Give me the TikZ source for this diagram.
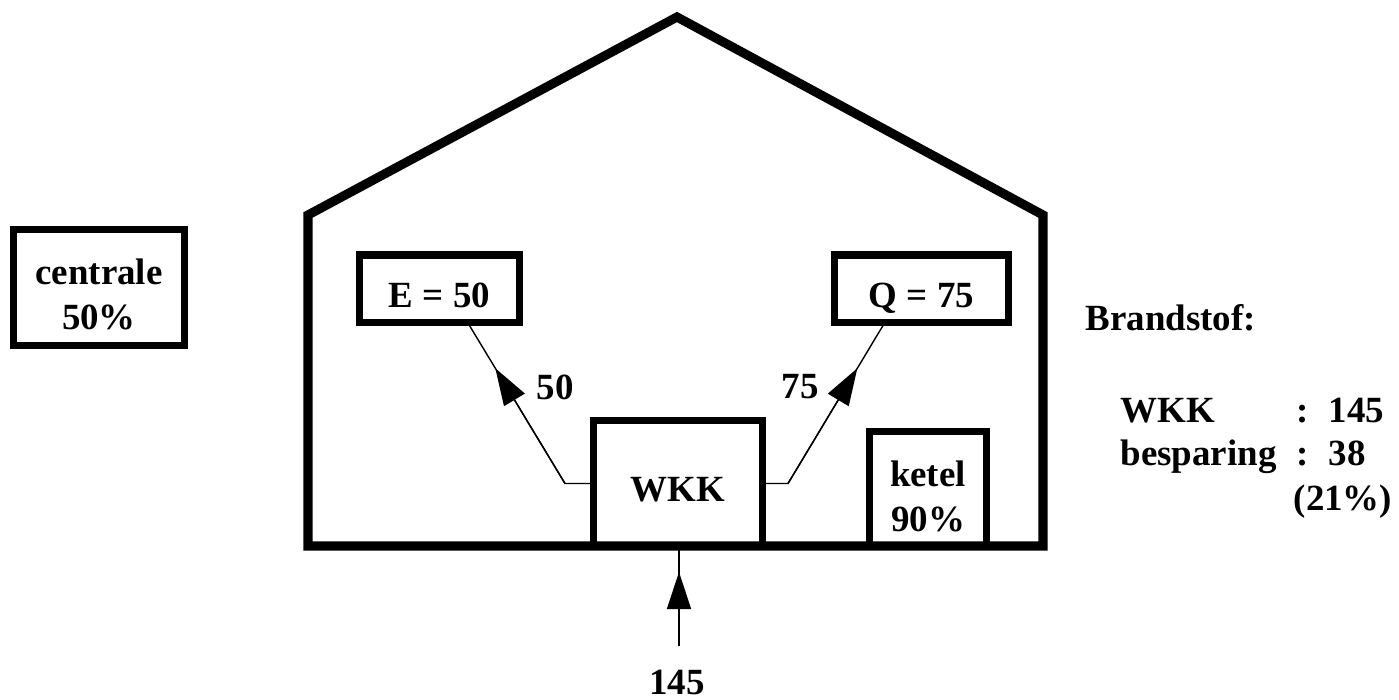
\documentclass[tikz,border=0pt]{standalone}
\usepackage{fontspec}
\setmainfont{Liberation Serif}
\usetikzlibrary{arrows.meta,calc}

\begin{document}
\begin{tikzpicture}[x=0.01cm,y=-0.01cm]
	\tikzstyle{every node}+=[font=\bfseries\fontsize{10.5}{12.8}\selectfont]
	\tikzstyle{box}=[draw,line width=2pt,inner sep=0pt,align=center]
	\tikzstyle{onebox}=[box,text height=3.8mm,text depth=0pt]
	\tikzstyle{flow}=[line width=0.4pt]
	\tikzstyle{tip}=[-{Triangle[length=3.7mm,width=2.4mm]},line width=0.4pt]
	\useasboundingbox (0,0) rectangle (1399,699);
	% huis
	\draw [line width=2.6pt,line join=miter] (308,215) -- (677,17) -- (1043,215) -- (1043,546) -- (308,546) -- cycle;
	% blokken
	\node [box,minimum width=1.70cm,minimum height=1.15cm] (centrale) at (99,287.5) {\rule{0pt}{4mm}centrale\\50\%};
	\node [onebox,minimum width=1.59cm,minimum height=0.67cm] (E) at (439.5,288.5) {E = 50};
	\node [onebox,minimum width=1.73cm,minimum height=0.67cm] (Q) at (921.5,288.5) {Q = 75};
	\node [onebox,minimum width=1.68cm,minimum height=1.25cm,text height=3.5mm] (wkk) at (678,483.5) {WKK};
	\node [box,minimum width=1.16cm,minimum height=1.14cm] (ketel) at (928,489) {\rule{0pt}{4.1mm}ketel\\90\%};
	% stromen
	\coordinate (eL) at ($(E.south)+(30,0)$);
	\coordinate (kL) at (565,483.5);
	\draw [flow] (eL) -- (kL) -- (wkk.west);
	\draw [tip] (kL) -- ($(kL)!0.73!(eL)$);
	\node (n50) at (555,387) {50};
	\coordinate (eR) at ($(Q.south)+(-38.5,0)$);
	\coordinate (kR) at (788,483.5);
	\draw [flow] (eR) -- (kR) -- (wkk.east);
	\draw [tip] (kR) -- ($(kR)!0.73!(eR)$);
	\node (n75) at (800,387) {75};
	\coordinate (in) at (679,646);
	\draw [flow] (in) -- (679,546);
	\draw [tip] (in) -- ($(in)!0.74!(679,546)$);
	\node (n145) at (677,682) {145};
	% brandstof
	\node [anchor=base west,inner sep=0pt] (bs) at (1085,330) {Brandstof:};
	\node [anchor=base west,inner sep=0pt] (bw) at (1120,422) {WKK};
	\node [anchor=base west,inner sep=0pt] (bwc) at (1296,422) {:};
	\node [anchor=base west,inner sep=0pt] (bwv) at (1328,422) {145};
	\node [anchor=base west,inner sep=0pt] (bb) at (1120,465) {besparing};
	\node [anchor=base west,inner sep=0pt] (bbc) at (1296,465) {:};
	\node [anchor=base west,inner sep=0pt] (bbv) at (1328,465) {38};
	\node [anchor=base west,inner sep=0pt] (bp) at (1293,510) {(21\%)};
\end{tikzpicture}
\end{document}
